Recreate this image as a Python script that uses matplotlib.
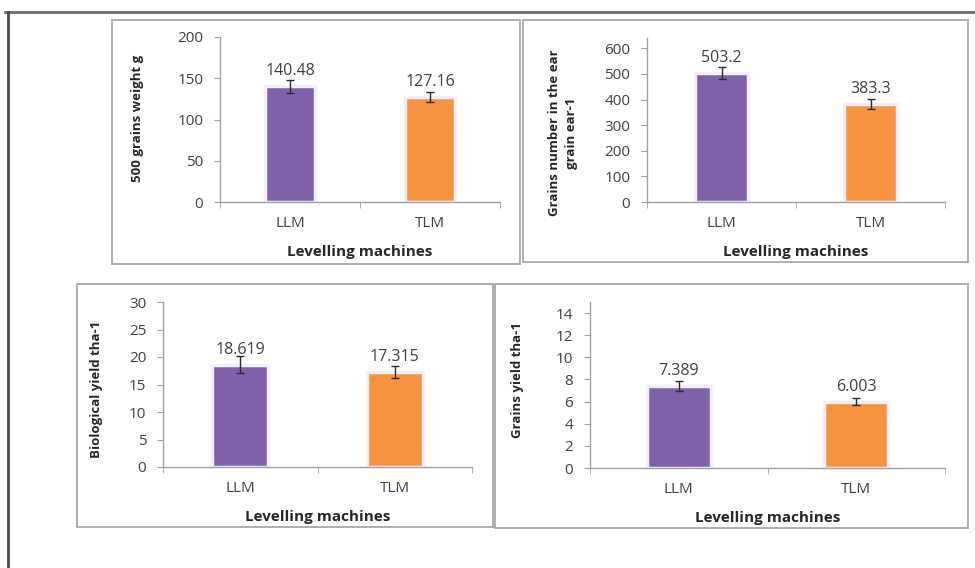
"""Four bar panels: yield traits for two levelling machines (LLM vs TLM)."""
import matplotlib.pyplot as plt
from matplotlib.patches import Rectangle
from matplotlib.lines import Line2D
import numpy as np

plt.rcParams["font.family"] = ["Open Sans", "DejaVu Sans"]

machines = ["LLM", "TLM"]
bar_colors = ["#7E61A8", "#F7923F"]

grain_weight = [140.48, 127.16]
grain_weight_err = [8.0, 6.5]

grain_number = [503.2, 383.3]
grain_number_err = [25.0, 20.0]

bio_yield = [18.619, 17.315]
bio_yield_err = [1.5, 1.1]

grain_yield = [7.389, 6.003]
grain_yield_err = [0.45, 0.35]

W, H = 975, 568


def fig_rect(x0, y0, x1, y1):
    """Pixel box (top-left origin) -> figure fraction [l, b, w, h]."""
    return [x0 / W, 1 - y1 / H, (x1 - x0) / W, (y1 - y0) / H]


PANELS = [
    # (values, errors, ylabel, ylim, yticks, axes box, border box, ylabel centre px)
    (grain_weight, grain_weight_err, "500 grains weight g", 200,
     np.arange(0, 201, 50), (220, 37, 500, 202), (112, 20, 520, 264), (137, 118)),
    (grain_number, grain_number_err, "Grains number in the ear\ngrain ear-1", 640,
     np.arange(0, 601, 100), (647, 38, 945, 202), (523, 20, 968, 262), (563, 133)),
    (bio_yield, bio_yield_err, "Biological yield tha-1", 30,
     np.arange(0, 31, 5), (163, 302, 472, 467), (77, 284, 493, 527), (97, 389)),
    (grain_yield, grain_yield_err, "Grains yield tha-1", 15,
     np.arange(0, 15, 2), (590, 302, 945, 468), (495, 284, 968, 528), (518, 380)),
]

fig = plt.figure(figsize=(W / 100, H / 100), dpi=100)
fig.patch.set_facecolor("white")

# outer frame: dark line along the top and left edges
fig.add_artist(Line2D([5 / W, 1.0], [1 - 12 / H, 1 - 12 / H], color="#6b6b6b",
                      linewidth=2.0, transform=fig.transFigure))
fig.add_artist(Line2D([8 / W, 8 / W], [1 - 12 / H, 0.0], color="#4a4a4a",
                      linewidth=2.0, transform=fig.transFigure))

x = np.arange(len(machines))

for vals, errs, ylabel, ytop, yticks, abox, bbox, lab_xy in PANELS:
    l, b, w, h = fig_rect(*bbox)
    fig.add_artist(Rectangle((l, b), w, h, transform=fig.transFigure,
                             fill=False, edgecolor="#a8a8a8", linewidth=1.3))

    ax = fig.add_axes(fig_rect(*abox))
    ax.bar(x, vals, width=0.36, color=bar_colors, edgecolor="#f3eefb",
           linewidth=2.5, zorder=2)
    ax.errorbar(x, vals, yerr=errs, fmt="none", ecolor="#2b2b2b",
                elinewidth=1.0, capsize=3, capthick=1.0, zorder=3)
    for xi, v in zip(x, vals):
        ax.annotate(f"{v:g}", (xi, v), xytext=(0, 5), textcoords="offset points",
                    ha="center", va="bottom", fontsize=11.5, color="#404040")

    ax.set_xlim(-0.5, 1.5)
    ax.set_ylim(0, ytop)
    ax.set_yticks(yticks)
    ax.set_xticks(x)
    ax.set_xticklabels(machines)
    ax.set_xticks([-0.5, 0.5, 1.5], minor=True)
    ax.tick_params(axis="x", which="major", length=0, labelsize=11,
                   colors="#404040", pad=10)
    ax.tick_params(axis="x", which="minor", length=4, color="#a0a0a0")
    ax.tick_params(axis="y", length=4, color="#a0a0a0", labelsize=11,
                   labelcolor="#404040", pad=8)
    for side in ("top", "right"):
        ax.spines[side].set_visible(False)
    for side in ("left", "bottom"):
        ax.spines[side].set_color("#a0a0a0")
        ax.spines[side].set_linewidth(1.0)

    ax.set_xlabel("Levelling machines", fontsize=11, fontweight="bold",
                  color="#262626", labelpad=10)
    ax.set_ylabel(ylabel, fontsize=9.5, fontweight="bold", color="#262626",
                  linespacing=1.3, va="center")
    # place the y label centre at a fixed pixel spot
    ax0, ay0, ax1, ay1 = abox
    ax.yaxis.set_label_coords((lab_xy[0] - ax0) / (ax1 - ax0),
                              (ay1 - lab_xy[1]) / (ay1 - ay0))

fig.savefig("out.png", dpi=100, facecolor="white")
